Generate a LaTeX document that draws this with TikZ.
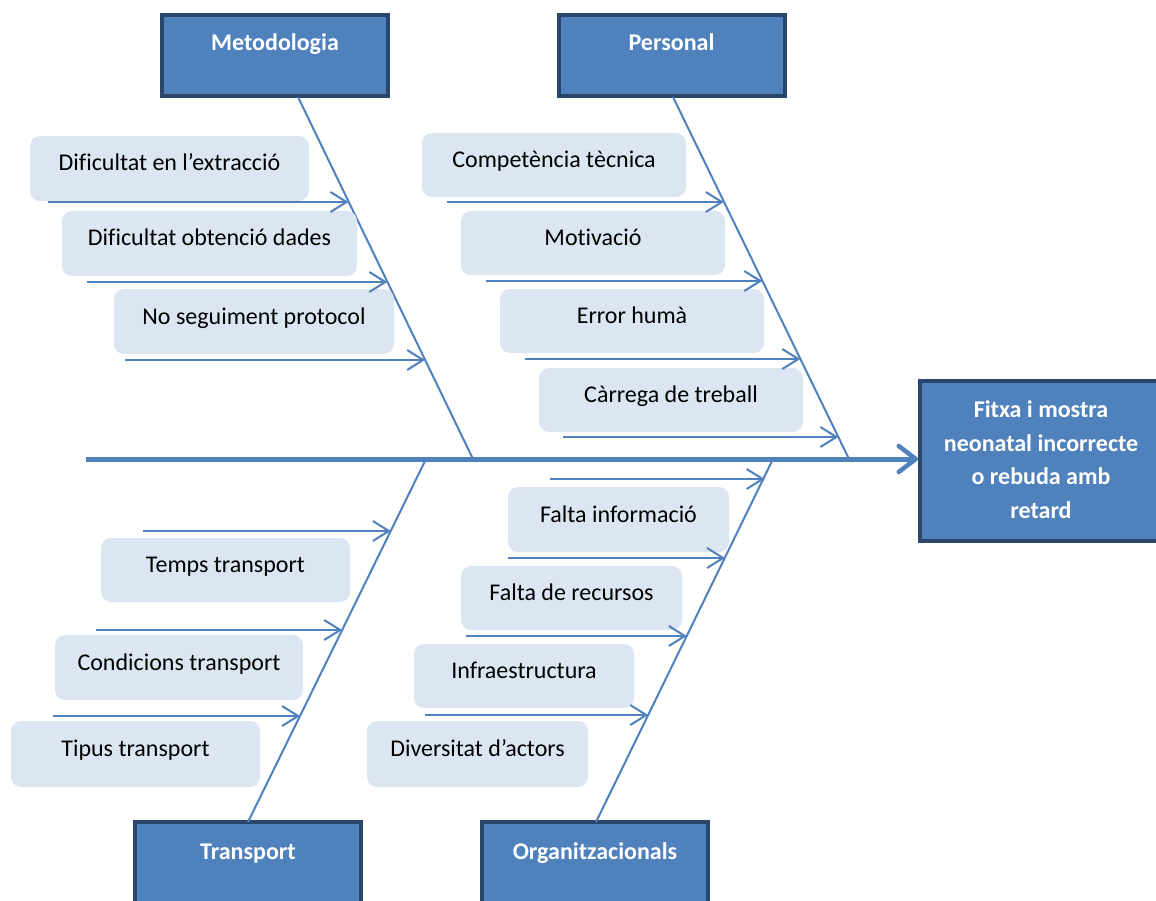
\documentclass[tikz,border=0pt]{standalone}
\usepackage{fontspec}
\setmainfont{Carlito}[Ligatures=NoCommon]
\usetikzlibrary{arrows.meta}
\definecolor{bone}{HTML}{4F81BD}
\definecolor{catfill}{HTML}{4F81BD}
\definecolor{catedge}{HTML}{2A466B}
\definecolor{causefill}{HTML}{DCE6F2}
\begin{document}
\begin{tikzpicture}[x=1pt,y=-1pt,
  cat/.style={draw=catedge, line width=4pt, fill=catfill, minimum width=226pt, minimum height=81pt, inner sep=0pt},
  cattext/.style={text=white, font=\bfseries\fontsize{24}{28}\selectfont, inner sep=0pt, text height=17pt, text depth=0pt},
  efftext/.style={text=white, font=\bfseries\fontsize{24}{33.5}\selectfont, inner sep=0pt, align=center},
  cause/.style={fill=causefill, rounded corners=10pt, minimum height=65pt, inner sep=0pt},
  causetext/.style={font=\fontsize{24}{28}\selectfont, inner sep=0pt, text height=17pt, text depth=0pt, yshift=6pt},
  bonel/.style={draw=bone, line width=2pt},
  sub/.style={draw=bone, line width=2.2pt, -{Straight Barb[length=16pt,width=20pt,line width=2pt]}},
  spine/.style={draw=bone, line width=5pt, -{Straight Barb[length=17pt,width=26pt,line width=4.5pt,round]}},
]
\clip (0,0) rectangle (1156,901);
\fill[white] (0,0) rectangle (1156,901);

% category boxes
\node[cat] (met) at (275,55.5) {};
\node[cattext] at (275,42) {Metodologia};
\node[cat] (per) at (671.5,55.5) {};
\node[cattext] at (671.5,42) {Personal};
\node[cat, minimum height=100pt] (tra) at (248,872) {};
\node[cattext] at (248,851) {Transport};
\node[cat, minimum height=100pt] (org) at (595,872) {};
\node[cattext] at (595,851) {Organitzacionals};

% effect box
\node[cat, minimum width=238pt, minimum height=160pt] (eff) at (1039,461) {};
\node[efftext] at (1041,459.5)
  {Fitxa i mostra\\neonatal incorrecte\\o rebuda amb\\retard};

% spine
\coordinate (sp) at (86,459);
\draw[spine] (sp) -- (sp -| eff.west);

% bones
\coordinate (mtop) at (298,97);  \coordinate (mbot) at (473,459);
\coordinate (ptop) at (673,97);  \coordinate (pbot) at (849,459);
\coordinate (ttop) at (426,459); \coordinate (tbot) at (248,822);
\coordinate (otop) at (773,459); \coordinate (obot) at (596,822);
\draw[bonel] (mtop) -- (mbot);
\draw[bonel] (ptop) -- (pbot);
\draw[bonel] (ttop) -- (tbot);
\draw[bonel] (otop) -- (obot);

% Metodologia causes
\node[cause, minimum width=279pt] (m1) at (169.5,168.5) {};
\node[causetext] at (m1) {Dificultat en l’extracció};
\node[cause, minimum width=295pt] (m2) at (209.5,243.5) {};
\node[causetext] at (m2) {Dificultat obtenció dades};
\node[cause, minimum width=280pt] (m3) at (254,321.5) {};
\node[causetext] at (m3) {No seguiment protocol};
\coordinate (m1s) at (48,202);  \coordinate (m1e) at (348.4,202);
\coordinate (m2s) at (87,282);  \coordinate (m2e) at (387.2,282);
\coordinate (m3s) at (125,360); \coordinate (m3e) at (425,360);
\draw[sub] (m1s) -- (m1e);
\draw[sub] (m2s) -- (m2e);
\draw[sub] (m3s) -- (m3e);

% Personal causes
\node[cause, minimum width=264pt, minimum height=64pt] (p1) at (554,165) {};
\node[causetext] at (p1) {Competència tècnica};
\node[cause, minimum width=264pt, minimum height=64pt] (p2) at (593,243) {};
\node[causetext] at (p2) {Motivació};
\node[cause, minimum width=264pt, minimum height=64pt] (p3) at (632,321) {};
\node[causetext] at (p3) {Error humà};
\node[cause, minimum width=264pt, minimum height=64pt] (p4) at (671,400) {};
\node[causetext] at (p4) {Càrrega de treball};
\coordinate (p1s) at (447,202); \coordinate (p1e) at (723.7,202);
\coordinate (p2s) at (486,281); \coordinate (p2e) at (762.2,281);
\coordinate (p3s) at (525,359); \coordinate (p3e) at (800.2,359);
\coordinate (p4s) at (563,437); \coordinate (p4e) at (838.3,437);
\draw[sub] (p1s) -- (p1e);
\draw[sub] (p2s) -- (p2e);
\draw[sub] (p3s) -- (p3e);
\draw[sub] (p4s) -- (p4e);

% Transport causes
\node[cause, minimum width=249pt, minimum height=64pt] (t1) at (225.5,570) {};
\node[causetext] at (t1) {Temps transport};
\node[cause, minimum width=248pt] (t2) at (179,667.5) {};
\node[causetext] at (t2) {Condicions transport};
\node[cause, minimum width=249pt, minimum height=66pt] (t3) at (135.5,754) {};
\node[causetext] at (t3) {Tipus transport};
\coordinate (t1s) at (143,531); \coordinate (t1e) at (390.7,531);
\coordinate (t2s) at (96,630);  \coordinate (t2e) at (342.1,630);
\coordinate (t3s) at (53,716);  \coordinate (t3e) at (300,716);
\draw[sub] (t1s) -- (t1e);
\draw[sub] (t2s) -- (t2e);
\draw[sub] (t3s) -- (t3e);

% Organitzacionals causes
\node[cause, minimum width=221pt] (o1) at (618.5,519.5) {};
\node[causetext] at (o1) {Falta informació};
\node[cause, minimum width=221pt, minimum height=64pt] (o2) at (571.5,598) {};
\node[causetext] at (o2) {Falta de recursos};
\node[cause, minimum width=220pt, minimum height=64pt] (o3) at (524,676) {};
\node[causetext] at (o3) {Infraestructura};
\node[cause, minimum width=221pt, minimum height=66pt] (o4) at (477.5,754) {};
\node[causetext] at (o4) {Diversitat d’actors};
\coordinate (o1s) at (550,479); \coordinate (o1e) at (764.5,479);
\coordinate (o2s) at (508,558); \coordinate (o2e) at (725,558);
\coordinate (o3s) at (466,636); \coordinate (o3e) at (686.7,636);
\coordinate (o4s) at (425,715); \coordinate (o4e) at (648.2,715);
\draw[sub] (o1s) -- (o1e);
\draw[sub] (o2s) -- (o2e);
\draw[sub] (o3s) -- (o3e);
\draw[sub] (o4s) -- (o4e);
\end{tikzpicture}
\end{document}
